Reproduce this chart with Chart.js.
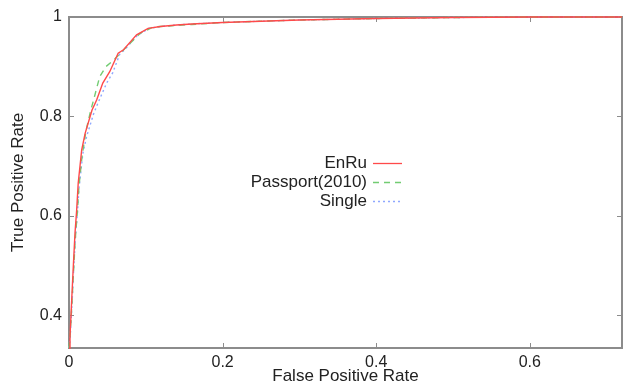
<!DOCTYPE html>
<html>
<head>
<meta charset="utf-8">
<script src="https://cdn.jsdelivr.net/npm/chart.js@4/dist/chart.umd.min.js"></script>
<style>
  html, body { margin: 0; padding: 0; background: #fff; }
  #wrap { width: 623px; height: 387px; }
</style>
</head>
<body>
<div id="wrap"><canvas id="c" width="623" height="387"></canvas></div>
<script>
// values
const enruFpr = [0, 0.0013, 0.0035, 0.0056, 0.0078, 0.010, 0.012, 0.0165, 0.021, 0.030, 0.036, 0.044, 0.053, 0.064, 0.071, 0.088, 0.103, 0.119, 0.14, 0.16, 0.2, 0.3, 0.4, 0.5, 0.6, 0.72];
const enruTpr = [0.334, 0.357, 0.43, 0.498, 0.565, 0.612, 0.666, 0.732, 0.766, 0.813, 0.833, 0.867, 0.89, 0.927, 0.934, 0.964, 0.977, 0.981, 0.984, 0.986, 0.989, 0.994, 0.997, 0.999, 1.0, 1.0];

const passFpr = [0, 0.0015, 0.004, 0.006, 0.008, 0.011, 0.013, 0.017, 0.022, 0.028, 0.032, 0.04, 0.048, 0.058, 0.075, 0.0925, 0.11, 0.13, 0.16, 0.2, 0.3, 0.4, 0.5, 0.6, 0.72];
const passTpr = [0.334, 0.36, 0.43, 0.49, 0.55, 0.61, 0.66, 0.72, 0.77, 0.81, 0.833, 0.88, 0.9, 0.913, 0.94, 0.967, 0.98, 0.982, 0.985, 0.989, 0.994, 0.997, 0.999, 1.0, 1.0];

const singleFpr = [0, 0.0015, 0.004, 0.006, 0.0085, 0.011, 0.013, 0.018, 0.023, 0.032, 0.038, 0.049, 0.057, 0.066, 0.073, 0.089, 0.104, 0.12, 0.14, 0.16, 0.2, 0.3, 0.4, 0.5, 0.6, 0.72];
const singleTpr = [0.334, 0.355, 0.425, 0.49, 0.56, 0.605, 0.655, 0.725, 0.76, 0.805, 0.828, 0.867, 0.888, 0.925, 0.935, 0.963, 0.977, 0.981, 0.984, 0.986, 0.989, 0.994, 0.997, 0.999, 1.0, 1.0];

const seriesNames = ['EnRu', 'Passport(2010)', 'Single'];
const seriesColors = ['#ff4a4a', '#72cc72', '#8fa8ff'];
const seriesDash = [[], [6, 5], [2, 3]];
const xTicks = [0, 0.2, 0.4, 0.6];
const yTicks = [0.4, 0.6, 0.8, 1];

const FONT = '"Liberation Sans", Arial, sans-serif';
const AXIS_COLOR = '#8c8c8c';
const TEXT_COLOR = '#222';

function toPoints(xs, ys) {
  return xs.map((x, i) => ({ x, y: ys[i] }));
}

// box frame, inward ticks and the inline legend
const framePlugin = {
  id: 'frame',
  beforeDatasetsDraw(chart) {
    const { ctx, chartArea: a, scales } = chart;
    ctx.save();
    ctx.strokeStyle = AXIS_COLOR;
    ctx.lineWidth = 2;
    ctx.strokeRect(a.left, a.top, a.right - a.left, a.bottom - a.top);
    ctx.lineWidth = 1;
    const len = 5;
    ctx.beginPath();
    xTicks.forEach(v => {
      const px = Math.round(scales.x.getPixelForValue(v)) + 0.5;
      ctx.moveTo(px, a.bottom); ctx.lineTo(px, a.bottom - len);
      ctx.moveTo(px, a.top); ctx.lineTo(px, a.top + len);
    });
    yTicks.forEach(v => {
      const py = Math.round(scales.y.getPixelForValue(v)) + 0.5;
      ctx.moveTo(a.left, py); ctx.lineTo(a.left + len, py);
      ctx.moveTo(a.right, py); ctx.lineTo(a.right - len, py);
    });
    ctx.stroke();
    ctx.restore();
  },
  afterDatasetsDraw(chart) {
    const { ctx } = chart;
    ctx.save();
    ctx.font = '17px ' + FONT;
    ctx.textAlign = 'right';
    ctx.textBaseline = 'middle';
    seriesNames.forEach((name, i) => {
      const y = 163 + i * 19;
      ctx.fillStyle = TEXT_COLOR;
      ctx.fillText(name, 367, y);
      ctx.strokeStyle = seriesColors[i];
      ctx.lineWidth = 1.3;
      ctx.setLineDash(seriesDash[i]);
      ctx.beginPath();
      ctx.moveTo(373, y + 0.5);
      ctx.lineTo(402, y + 0.5);
      ctx.stroke();
    });
    ctx.restore();
  }
};

const datasets = [
  toPoints(enruFpr, enruTpr),
  toPoints(passFpr, passTpr),
  toPoints(singleFpr, singleTpr)
].map((pts, i) => ({
  label: seriesNames[i],
  data: pts,
  borderColor: seriesColors[i],
  borderWidth: 1.4,
  borderDash: seriesDash[i],
  showLine: true,
  pointRadius: 0,
  clip: 4
}));

new Chart(document.getElementById('c'), {
  type: 'scatter',
  data: { datasets },
  options: {
    responsive: false,
    animation: false,
    layout: { padding: { left: 8, right: 1, top: 17, bottom: 0 } },
    plugins: {
      legend: { display: false },
      tooltip: { enabled: false }
    },
    scales: {
      x: {
        type: 'linear',
        min: 0,
        max: 0.72,
        grid: { display: false, drawTicks: false },
        border: { display: false },
        afterFit(scale) { scale.height = 39; },
        afterBuildTicks(scale) { scale.ticks = xTicks.map(v => ({ value: v })); },
        ticks: {
          color: TEXT_COLOR,
          padding: 5,
          maxRotation: 0,
          font: { family: FONT, size: 16 },
          callback: v => String(v)
        },
        title: {
          display: true,
          text: 'False Positive Rate',
          color: TEXT_COLOR,
          padding: 0,
          font: { family: FONT, size: 17 }
        }
      },
      y: {
        type: 'linear',
        min: 0.334,
        max: 1,
        grid: { display: false, drawTicks: false },
        border: { display: false },
        afterFit(scale) { scale.width = 61; },
        afterBuildTicks(scale) { scale.ticks = yTicks.map(v => ({ value: v })); },
        ticks: {
          color: TEXT_COLOR,
          padding: 7,
          font: { family: FONT, size: 16 },
          callback: v => String(v)
        },
        title: {
          display: true,
          text: 'True Positive Rate',
          color: TEXT_COLOR,
          padding: 0,
          font: { family: FONT, size: 17 }
        }
      }
    }
  },
  plugins: [framePlugin]
});
</script>
</body>
</html>
